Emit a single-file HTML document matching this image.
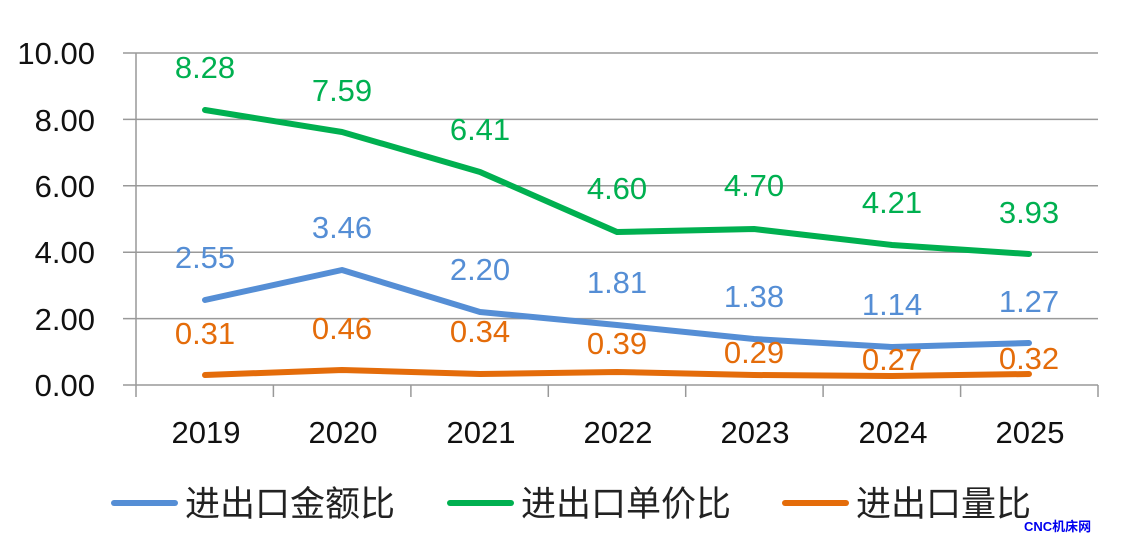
<!DOCTYPE html>
<html><head><meta charset="utf-8"><style>body{margin:0;background:#fff}svg{display:block}</style></head><body>
<svg width="1128" height="555" xmlns="http://www.w3.org/2000/svg" font-family="Liberation Sans, 'Noto Sans CJK SC', sans-serif">
<g stroke="#999" stroke-width="1.5">
<line x1="123" y1="53" x2="1098" y2="53"/><line x1="123" y1="119.4" x2="1098" y2="119.4"/><line x1="123" y1="185.8" x2="1098" y2="185.8"/><line x1="123" y1="252.2" x2="1098" y2="252.2"/><line x1="123" y1="318.6" x2="1098" y2="318.6"/><line x1="123" y1="385" x2="1098" y2="385"/>
<line x1="136" y1="53" x2="136" y2="397"/>
<line x1="273.4" y1="385" x2="273.4" y2="397"/><line x1="410.9" y1="385" x2="410.9" y2="397"/><line x1="548.3" y1="385" x2="548.3" y2="397"/><line x1="685.7" y1="385" x2="685.7" y2="397"/><line x1="823.1" y1="385" x2="823.1" y2="397"/><line x1="960.6" y1="385" x2="960.6" y2="397"/><line x1="1098" y1="385" x2="1098" y2="397"/>
</g>
<g font-size="31" fill="#111" text-anchor="end">
<text x="95" y="64">10.00</text><text x="95" y="131">8.00</text><text x="95" y="197">6.00</text><text x="95" y="263">4.00</text><text x="95" y="330">2.00</text><text x="95" y="396">0.00</text>
</g>
<g font-size="31" fill="#111" text-anchor="middle">
<text x="206" y="443">2019</text><text x="343" y="443">2020</text><text x="481" y="443">2021</text><text x="618" y="443">2022</text><text x="755" y="443">2023</text><text x="893" y="443">2024</text><text x="1030" y="443">2025</text>
</g>
<g fill="none" stroke-width="6" stroke-linejoin="round" stroke-linecap="round">
<polyline stroke="#00B050" points="205,110 342,132 480,172 617,232 754,229 892,245 1029,254"/>
<polyline stroke="#558ED5" points="205,300 342,270 480,312 617,325 754,339 892,347 1029,343"/>
<polyline stroke="#E46C0A" points="205,375 342,370 480,374 617,372 754,375 892,376 1029,374"/>
</g>
<g font-size="31" text-anchor="middle">
<g fill="#00B050"><text x="205" y="78">8.28</text><text x="342" y="101">7.59</text><text x="480" y="140">6.41</text><text x="617" y="199">4.60</text><text x="754" y="196">4.70</text><text x="892" y="213">4.21</text><text x="1029" y="223">3.93</text></g>
<g fill="#558ED5"><text x="205" y="268">2.55</text><text x="342" y="238">3.46</text><text x="480" y="280">2.20</text><text x="617" y="293">1.81</text><text x="754" y="307">1.38</text><text x="892" y="315">1.14</text><text x="1029" y="312">1.27</text></g>
<g fill="#E46C0A"><text x="205" y="344">0.31</text><text x="342" y="339">0.46</text><text x="480" y="342">0.34</text><text x="617" y="354">0.39</text><text x="754" y="363">0.29</text><text x="892" y="370">0.27</text><text x="1029" y="369">0.32</text></g>
</g>
<g stroke-width="6" stroke-linecap="round">
<line x1="114" y1="503" x2="175" y2="503" stroke="#558ED5"/>
<line x1="450" y1="503" x2="511" y2="503" stroke="#00B050"/>
<line x1="785" y1="503" x2="846" y2="503" stroke="#E46C0A"/>
</g>
<g font-size="35" fill="#222">
<text x="185" y="516">进出口金额比</text><text x="521" y="516">进出口单价比</text><text x="856" y="516">进出口量比</text>
</g>
<text x="1024" y="531" font-size="13" font-weight="bold" fill="#0000EE">CNC机床网</text>
</svg>
</body></html>
